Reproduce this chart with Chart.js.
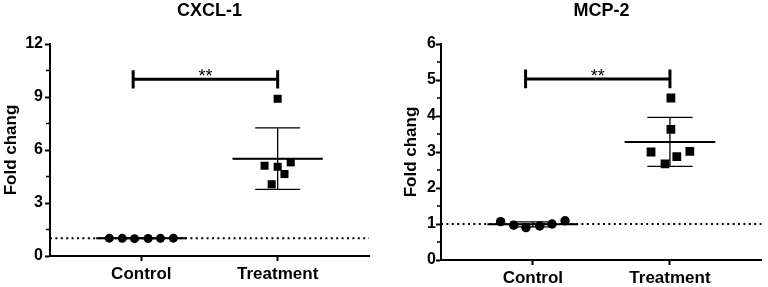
<!DOCTYPE html>
<html>
<head>
<meta charset="utf-8">
<script src="https://cdn.jsdelivr.net/npm/chart.js@4.4.1/dist/chart.umd.min.js"></script>
<style>
  body { margin: 0; background: #fff; }
  canvas { position: absolute; top: 0; }
</style>
</head>
<body>
<canvas id="cxcl" width="384" height="287" style="left:0"></canvas>
<canvas id="mcp" width="384" height="287" style="left:384px"></canvas>
<script>
const groups = ['Control', 'Treatment'];

// CXCL-1 panel
const cxclControl = [1.01, 1.0, 0.98, 0.99, 1.0, 1.01];
const cxclTreatment = [8.9, 5.11, 5.05, 5.3, 4.64, 4.06];
const cxclMean = [1.0, 5.51];
const cxclSd = [0.02, 1.74];
const cxclTicks = [0, 3, 6, 9, 12];

// MCP-2 panel
const mcpControl = [1.065, 0.965, 0.9, 0.946, 1.0, 1.09];
const mcpTreatment = [4.5, 3.63, 3.0, 3.02, 2.87, 2.67];
const mcpMean = [0.99, 3.28];
const mcpSd = [0.07, 0.68];
const mcpTicks = [0, 1, 2, 3, 4, 5, 6];

// sideways spread of the dots inside each column (in category units)
const controlJitter = [-0.235, -0.14, -0.05, 0.05, 0.14, 0.235];
const cxclTreatJitter = [0, -0.096, 0, 0.096, 0.05, -0.044];
const mcpTreatJitter = [0.007, 0.007, -0.138, 0.145, 0.05, -0.036];

Chart.defaults.font.family = '"Liberation Sans", Arial, sans-serif';
Chart.defaults.color = '#000';
Chart.defaults.animation = false;

const pts = (vals, center, jit) => vals.map((v, i) => ({ x: center + jit[i], y: v }));

// mean line + SD whiskers for each group, as broken line segments
function meanSd(mean, sd) {
  const out = [];
  mean.forEach((m, g) => {
    out.push({ x: g - 0.33, y: m }, { x: g + 0.33, y: m }, { x: g, y: null });
    out.push({ x: g, y: m - sd[g] }, { x: g, y: m + sd[g] }, { x: g, y: null });
    out.push({ x: g - 0.165, y: m + sd[g] }, { x: g + 0.165, y: m + sd[g] }, { x: g, y: null });
    out.push({ x: g - 0.165, y: m - sd[g] }, { x: g + 0.165, y: m - sd[g] }, { x: g, y: null });
  });
  return out;
}

function bracket(from, to, y, cap) {
  return [
    { x: from, y: y }, { x: to, y: y }, { x: to, y: null },
    { x: from, y: y - cap }, { x: from, y: y + cap }, { x: from, y: null },
    { x: to, y: y - cap }, { x: to, y: y + cap }
  ];
}

const xMin = -0.67, xMax = 1.67;

function panel(id, p) {
  const decor = {
    id: 'decor',
    afterDraw(chart) {
      const { ctx, chartArea, scales: { x, y } } = chart;
      ctx.save();
      ctx.fillStyle = '#000';
      ctx.textAlign = 'center';
      ctx.textBaseline = 'middle';
      ctx.font = 'bold 18px "Liberation Sans", Arial, sans-serif';
      ctx.fillText(p.title, (chartArea.left + chartArea.right) / 2, 11);
      // significance stars
      ctx.font = '18px "Liberation Sans", Arial, sans-serif';
      ctx.textBaseline = 'alphabetic';
      ctx.fillText('**', (x.getPixelForValue(p.br[0]) + x.getPixelForValue(p.br[1])) / 2,
        y.getPixelForValue(p.br[2]) + 3);
      // minor ticks on y axis
      ctx.strokeStyle = '#000';
      ctx.lineWidth = 1.5;
      const step = p.ticks[1] - p.ticks[0];
      for (let v = step / 2; v < p.ticks[p.ticks.length - 1]; v += step) {
        const py = y.getPixelForValue(v);
        ctx.beginPath();
        ctx.moveTo(chartArea.left - 1, py);
        ctx.lineTo(chartArea.left - 4, py);
        ctx.stroke();
      }
      ctx.restore();
    }
  };

  const whiskers = meanSd(p.mean, p.sd);

  new Chart(document.getElementById(id), {
    type: 'scatter',
    data: {
      datasets: [
        { data: pts(p.control, 0, controlJitter), pointStyle: 'circle', pointRadius: p.circle,
          backgroundColor: '#000', borderColor: '#000', borderWidth: 0 },
        { data: pts(p.treat, 1, p.treatJit), pointStyle: 'rect', pointRadius: p.rect,
          backgroundColor: '#000', borderColor: '#000', borderWidth: 0 },
        { data: bracket(p.br[0], p.br[1], p.br[2], p.br[3]), showLine: true, spanGaps: false,
          pointRadius: 0, borderColor: '#000', borderWidth: 3 },
        // mean bars a bit heavier than the SD whiskers
        { data: whiskers.slice(0, 3).concat(whiskers.slice(12, 15)),
          showLine: true, spanGaps: false, pointRadius: 0, borderColor: '#000', borderWidth: 2 },
        { data: whiskers, showLine: true, spanGaps: false, pointRadius: 0,
          borderColor: '#000', borderWidth: 1.3 },
        { data: [{ x: xMin, y: 1 }, { x: xMax, y: 1 }], showLine: true, pointRadius: 0,
          borderColor: '#000', borderWidth: 2, borderDash: [2, 3.4] }
      ]
    },
    options: {
      responsive: false,
      layout: { padding: { top: 44, right: p.padRight, left: 0, bottom: 0 } },
      plugins: { legend: { display: false }, tooltip: { enabled: false } },
      scales: {
        x: {
          type: 'linear', min: xMin, max: xMax,
          afterBuildTicks: s => { s.ticks = [{ value: 0 }, { value: 1 }]; },
          afterFit: s => { s.height = p.xHeight; },
          ticks: { callback: v => groups[v], font: { size: 17, weight: 'bold' }, padding: 3 },
          grid: { drawOnChartArea: false, tickLength: 5, tickWidth: 2, tickColor: '#000' },
          border: { color: '#000', width: 2 }
        },
        y: {
          min: 0, max: p.ticks[p.ticks.length - 1],
          afterBuildTicks: s => { s.ticks = p.ticks.map(v => ({ value: v })); },
          afterFit: s => { s.width = p.yWidth; },
          ticks: { font: { size: 16, weight: 'bold' }, padding: p.labelPad },
          grid: { drawOnChartArea: false, tickLength: 5, tickWidth: 2, tickColor: '#000' },
          border: { color: '#000', width: 2 },
          title: { display: true, text: 'Fold chang', font: { size: 17, weight: 'bold' },
            padding: { top: p.titlePad, bottom: 0 } }
        }
      }
    },
    plugins: [decor]
  });
}

panel('cxcl', {
  title: 'CXCL-1', control: cxclControl, treat: cxclTreatment, treatJit: cxclTreatJitter,
  mean: cxclMean, sd: cxclSd, ticks: cxclTicks, br: [-0.06, 1, 10.0, 0.52],
  circle: 4.5, rect: 5.7, padRight: 15, xHeight: 31, yWidth: 50, labelPad: 2, titlePad: 1
});

panel('mcp', {
  title: 'MCP-2', control: mcpControl, treat: mcpTreatment, treatJit: mcpTreatJitter,
  mean: mcpMean, sd: mcpSd, ticks: mcpTicks, br: [-0.053, 1, 5.03, 0.26],
  circle: 4.7, rect: 6.2, padRight: 4, xHeight: 27, yWidth: 57, labelPad: 0, titlePad: 17
});
</script>
</body>
</html>
